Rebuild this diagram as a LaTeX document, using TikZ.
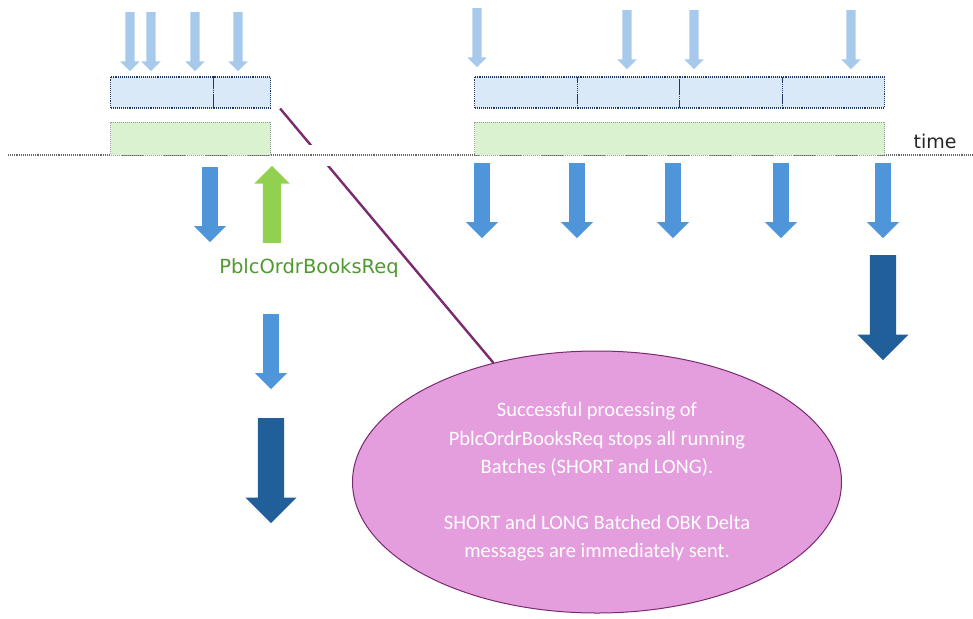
\documentclass[tikz,border=0pt]{standalone}
\usepackage{fontspec}
\setmainfont{DejaVu Sans}
\newfontfamily\notefont{Carlito}
\usepackage{tikz}
\usetikzlibrary{shapes.arrows,shapes.geometric}
\definecolor{feedblue}{HTML}{A6C9EC}
\definecolor{slotfill}{HTML}{DAE9F8}
\definecolor{slotline}{HTML}{203864}
\definecolor{winfill}{HTML}{DAF2D0}
\definecolor{winline}{HTML}{9A9A9A}
\definecolor{emitblue}{HTML}{4E95D9}
\definecolor{deepblue}{HTML}{215F9A}
\definecolor{reqgreen}{HTML}{92D050}
\definecolor{reqtext}{HTML}{4E9A2E}
\definecolor{notefill}{HTML}{E49EDD}
\definecolor{noteline}{HTML}{7A2A70}
\tikzstyle{slot}=[draw=slotline,densely dotted,line width=1.1pt,fill=slotfill,minimum height=31pt,inner sep=0pt,anchor=west]
\tikzstyle{window}=[draw=winline,densely dotted,line width=1pt,fill=winfill,minimum height=33pt,inner sep=0pt,anchor=west]
\tikzstyle{blockarrow}=[single arrow,inner xsep=0pt,draw=none,anchor=tail]
\tikzstyle{feed}=[blockarrow,rotate=-90,fill=feedblue,inner ysep=4.5pt,single arrow head extend=5pt,minimum height=59pt]
\tikzstyle{emit}=[blockarrow,rotate=-90,fill=emitblue,inner ysep=7.75pt,single arrow head extend=8.25pt,minimum height=75pt]
\tikzstyle{req}=[blockarrow,rotate=90,fill=reqgreen,inner ysep=9pt,single arrow head extend=8.5pt,minimum height=77pt]
\tikzstyle{flush}=[blockarrow,rotate=-90,fill=deepblue,inner ysep=13pt,single arrow head extend=12.5pt,minimum height=105pt]
\tikzstyle{note}=[ellipse,draw=noteline,line width=1pt,fill=notefill,minimum width=489pt,minimum height=262pt,inner sep=0pt,
    text=white,align=center,font=\notefont\fontsize{20.5}{28.5}\selectfont]

\begin{document}
\begin{tikzpicture}[x=1pt,y=-1pt]
    \useasboundingbox (0,0) rectangle (973,618);
    \node[note] (note) at (597,482) {Successful processing of\\PblcOrdrBooksReq stops all running\\Batches (SHORT and LONG).\\[27pt]SHORT and LONG Batched OBK Delta\\messages are immediately sent.};
    \foreach \x/\w/\name in {110/103/s1, 213/57/s2, 474/103/s3, 577/102/s4, 679/103/s5, 782/102/s6}
        \node[slot,minimum width=\w pt] (\name) at (\x,92.5) {};
    \draw[noteline,line width=2.4pt] ([xshift=9pt]s2.south east) -- (note.131);
    \draw[white,line width=21pt] (270,155.5) -- (474,155.5);
    \coordinate (t0) at (8,155);
    \coordinate (t1) at (973,155);
    \draw[black!60,densely dotted,line width=1.1pt] (t0) -- (t1);
    \node[window,minimum width=160pt] (w1) at (110,138.5) {};
    \node[window,minimum width=410pt] (w2) at (474,138.5) {};
    \node[font=\fontsize{19}{19}\selectfont,text=black!85] (time) at (935,141) {time};
    \foreach \pos/\name in {{(130,12)/f1}, {(151,12)/f2}, {(195,12)/f3}, {(238,12)/f4},
                            {(477,8)/f5}, {(627,10)/f6}, {(694,10)/f7}, {(851,10)/f8}}
        \node[feed] (\name) at \pos {};
    \foreach \pos/\name in {{(210,167)/e1}, {(271,314)/e2}, {(482,163)/e3}, {(577,163)/e4},
                            {(673,163)/e5}, {(781,163)/e6}, {(883,163)/e7}}
        \node[emit] (\name) at \pos {};
    \node[req] (req) at (272,243) {};
    \node[text=reqtext,font=\fontsize{19.5}{19.5}\selectfont] (reqlabel) at (309,268) {PblcOrdrBooksReq};
    \node[flush] (d1) at (271,418) {};
    \node[flush] (d2) at (883,255) {};
\end{tikzpicture}
\end{document}
